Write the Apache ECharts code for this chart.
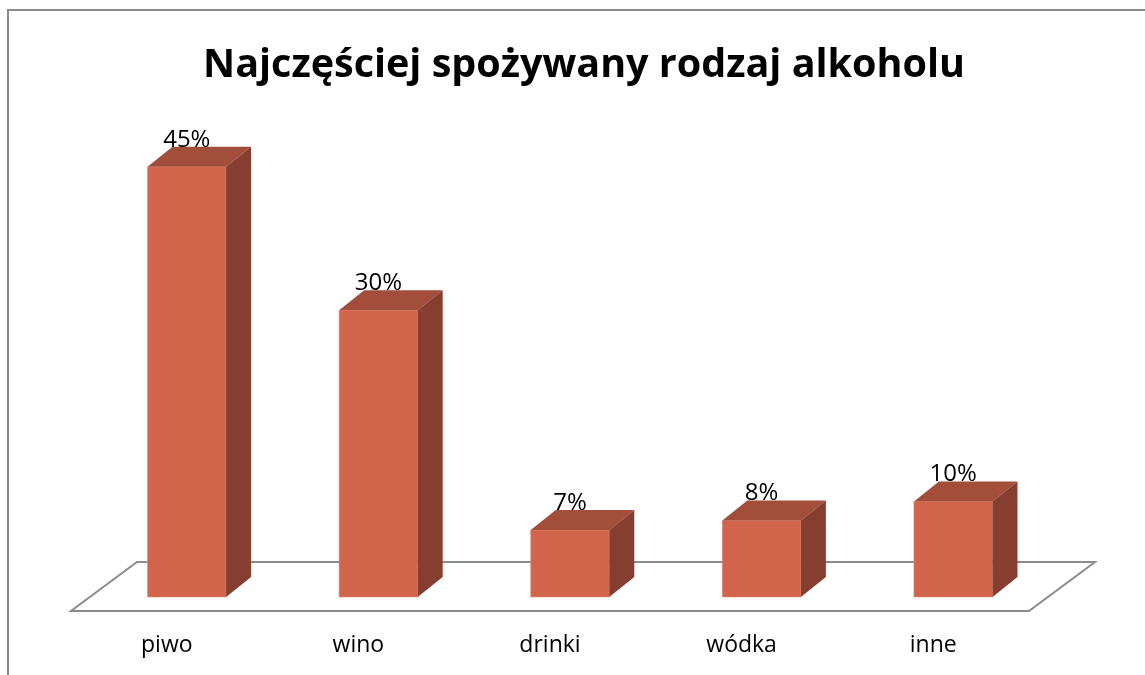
<!DOCTYPE html>
<html>
<head>
<meta charset="utf-8">
<script src="https://cdn.jsdelivr.net/npm/echarts@6/dist/echarts.min.js"></script>
<style>
  html, body { margin: 0; padding: 0; background: #fff; }
  #main { width: 1145px; height: 675px; }
</style>
</head>
<body>
<div id="main"></div>
<script>
// dane z wykresu
var categories = ['piwo', 'wino', 'drinki', 'wódka', 'inne'];
var values = [45, 30, 7, 8, 10];
var labels = ['45%', '30%', '7%', '8%', '10%'];

var FONT = 'Open Sans';
var frontColor = '#d1644a';
var topColor = '#a24e3a';
var sideColor = '#853e2f';

// podłoga 3D pod słupkami
function renderFloor(params, api) {
  var cs = params.coordSys;
  var x = cs.x, y = cs.y + cs.height, w = cs.width;
  var dx = 66, dy = -49;
  return {
    type: 'polygon',
    shape: { points: [[x, y], [x + w, y], [x + w + dx, y + dy], [x + dx, y + dy]] },
    style: { fill: '#fff', stroke: '#8c8c8c', lineWidth: 2 }
  };
}

// słupek 3D: przód, góra, bok + etykieta
function renderBar(params, api) {
  var idx = api.value(0);
  var val = api.value(1);
  var base = api.coord([idx, 0]);
  var top = api.coord([idx, val]);
  var h = base[1] - top[1];
  var w = api.size([1, 0])[0] * 0.41;
  var dx = 25, dy = -20;
  var cx = base[0] + 20;
  var by = base[1] - 14;
  var ty = by - h;
  var l = cx - w / 2, r = cx + w / 2;
  return {
    type: 'group',
    children: [
      { type: 'rect', shape: { x: l, y: ty, width: w, height: h },
        style: { fill: frontColor, stroke: '#e08a73', lineWidth: 0.6 } },
      { type: 'polygon', shape: { points: [[l, ty], [r, ty], [r + dx, ty + dy], [l + dx, ty + dy]] },
        style: { fill: topColor } },
      { type: 'polygon', shape: { points: [[r, ty], [r + dx, ty + dy], [r + dx, by + dy], [r, by]] },
        style: { fill: sideColor } },
      { type: 'text', x: cx, y: ty - 27,
        style: { text: labels[params.dataIndex], fill: '#000', font: '24px "' + FONT + '"',
                 align: 'center', verticalAlign: 'middle' } }
    ]
  };
}

var chart = echarts.init(document.getElementById('main'));
chart.setOption({
  animation: false,
  backgroundColor: '#fff',
  title: {
    text: 'Najczęściej spożywany rodzaj alkoholu',
    left: 579, top: 41, textAlign: 'center',
    textStyle: { fontFamily: FONT, fontWeight: 'bold', fontSize: 39.5, color: '#000' }
  },
  grid: { left: 71, right: 116, top: 133, bottom: 64 },
  xAxis: {
    type: 'category',
    data: categories,
    axisLine: { show: false },
    axisTick: { show: false },
    axisLabel: { color: '#000', fontFamily: FONT, fontSize: 23, margin: 23 }
  },
  yAxis: { type: 'value', min: 0, max: 50, show: false, splitLine: { show: false } },
  graphic: [
    { type: 'polyline', shape: { points: [[8, 675], [8, 10], [1145, 10]] },
      style: { stroke: '#8a8a8a', lineWidth: 2, fill: null }, z: 0 }
  ],
  series: [
    { type: 'custom', z: 1, renderItem: renderFloor, data: [[0]], silent: true },
    { type: 'custom', z: 2, renderItem: renderBar,
      data: values.map(function (v, i) { return [i, v]; }) }
  ]
});
</script>
</body>
</html>
